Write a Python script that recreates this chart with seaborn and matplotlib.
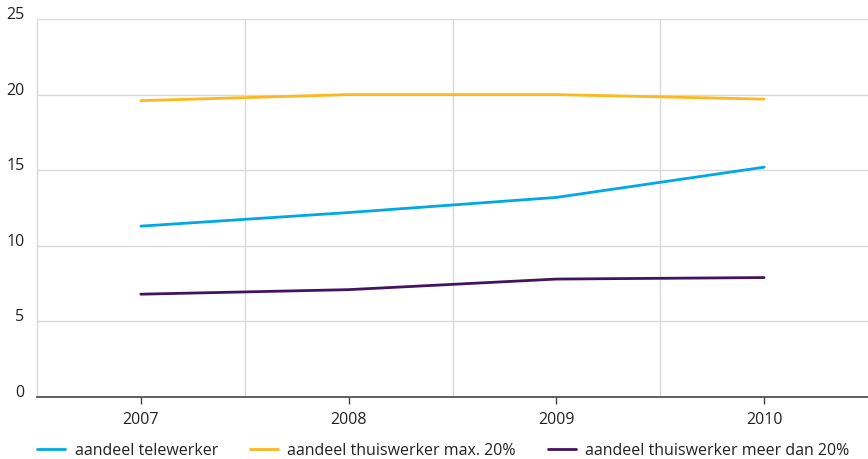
import matplotlib
matplotlib.use("Agg")
import matplotlib.pyplot as plt
import seaborn as sns
import pandas as pd

years = ["2007", "2008", "2009", "2010"]
telewerker = [11.3, 12.2, 13.2, 15.2]
thuis_max20 = [19.6, 20.0, 20.0, 19.7]
thuis_meer20 = [6.8, 7.1, 7.8, 7.9]
series_names = [
    "aandeel telewerker",
    "aandeel thuiswerker max. 20%",
    "aandeel thuiswerker meer dan 20%",
]
colors = ["#00a8e8", "#ffb81c", "#42145f"]
y_ticks = [0, 5, 10, 15, 20, 25]

rows = []
for name, vals in zip(series_names, [telewerker, thuis_max20, thuis_meer20]):
    for i, (yr, v) in enumerate(zip(years, vals)):
        rows.append({"pos": i, "jaar": yr, "waarde": v, "reeks": name})
df = pd.DataFrame(rows)

sns.set_theme(style="white")
plt.rcParams["font.family"] = ["Open Sans", "DejaVu Sans"]

fig = plt.figure(figsize=(8.68, 4.59), dpi=100)
ax = fig.add_axes([37 / 868, 62 / 459, 831 / 868, 378 / 459])

sns.lineplot(data=df, x="pos", y="waarde", hue="reeks", hue_order=series_names,
             palette=colors, linewidth=2, ax=ax, legend=False)

ax.set_xlim(-0.5, 3.5)
ax.set_ylim(0, 25)
ax.set_yticks(y_ticks)
ax.set_yticklabels([str(t) for t in y_ticks])
ax.set_xticks(range(len(years)))
ax.set_xticklabels(years)
ax.set_xlabel("")
ax.set_ylabel("")

# horizontal grid at the y ticks, vertical grid between the years
for t in y_ticks[1:]:
    ax.axhline(t, color="#d9d9d9", linewidth=1, zorder=0)
for xv in [0.5, 1.5, 2.5]:
    ax.axvline(xv, color="#d9d9d9", linewidth=1, zorder=0)

for side in ["top", "right"]:
    ax.spines[side].set_visible(False)
ax.spines["left"].set_color("#d9d9d9")
ax.spines["left"].set_linewidth(1)
ax.spines["bottom"].set_color("#444444")
ax.spines["bottom"].set_linewidth(1.2)

ax.tick_params(axis="y", length=0, pad=9, labelsize=11.5, labelcolor="#222222")
ax.tick_params(axis="x", length=5, width=1, color="#444444", direction="out",
               pad=6, labelsize=11.5, labelcolor="#222222", bottom=True)
for lbl in ax.get_yticklabels():
    lbl.set_verticalalignment("baseline")

handles = [plt.Line2D([0], [0], color=c, linewidth=2) for c in colors]
fig.legend(handles, series_names, loc="center left",
           bbox_to_anchor=(37 / 868, 1 - 451 / 459),
           ncol=3, frameon=False, fontsize=11.5, borderpad=0, borderaxespad=0,
           handlelength=1.75, handletextpad=0.6, columnspacing=2.0,
           labelcolor="#222222")

fig.savefig("out.png", dpi=100)
